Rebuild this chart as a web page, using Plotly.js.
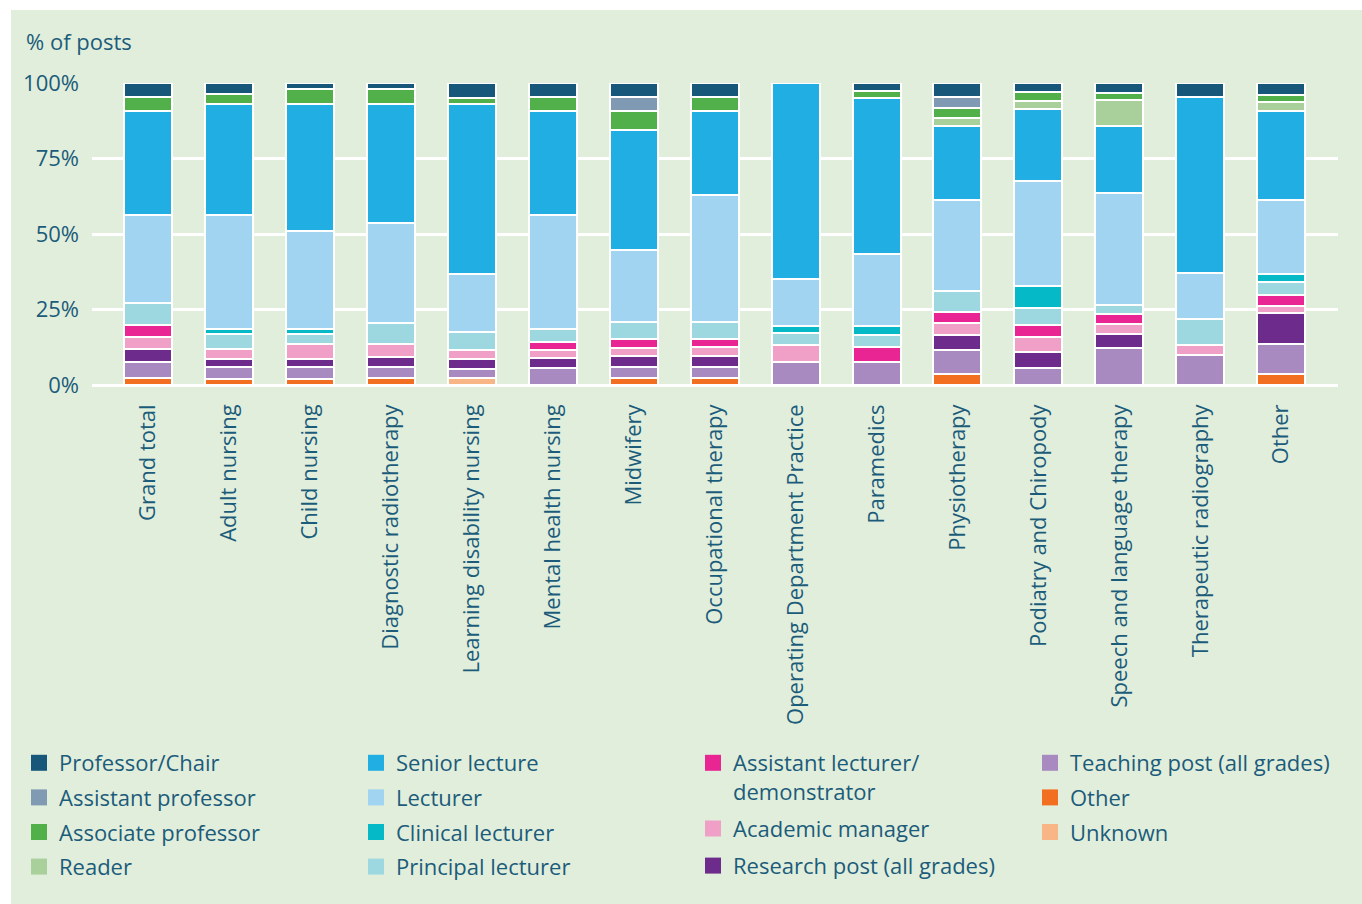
<!DOCTYPE html>
<html>
<head>
<meta charset="utf-8">
<script src="https://cdn.plot.ly/plotly-3.0.1.min.js"></script>
<style>
html,body{margin:0;padding:0;background:#ffffff;}
#chart{position:absolute;left:11px;top:10px;width:1351px;height:894px;}
</style>
</head>
<body>
<div id="chart"></div>
<script>
// ---------- data (percent of posts) ----------
const categories = ["Grand total","Adult nursing","Child nursing","Diagnostic radiotherapy",
  "Learning disability nursing","Mental health nursing","Midwifery","Occupational therapy",
  "Operating Department Practice","Paramedics","Physiotherapy","Podiatry and Chiropody",
  "Speech and language therapy","Therapeutic radiography","Other"];

const unknownPost       = [0,   0,   0,   0,   2.2, 0,   0,   0,   0,   0,   0,   0,   0,   0,   0];
const otherPost         = [2.3, 2.0, 2.0, 2.3, 0,   0,   2.3, 2.3, 0,   0,   3.5, 0,   0,   0,   3.5];
const teachingPost      = [5.2, 4.1, 4.1, 3.7, 3.0, 5.7, 3.8, 3.8, 7.6, 7.6, 8.2, 5.7, 12.4,9.8, 10.1];
const researchPost      = [4.5, 2.4, 2.4, 3.4, 3.3, 3.2, 3.4, 3.4, 0,   0,   4.7, 5.2, 4.4, 0,   10.4];
const academicManager   = [4.0, 3.5, 5.0, 4.1, 3.1, 2.8, 2.9, 3.0, 5.8, 0,   4.0, 5.1, 3.5, 3.5, 2.0];
const assistantLecturer = [3.8, 0,   0,   0,   0,   2.5, 2.8, 2.7, 0,   5.0, 3.7, 3.8, 3.3, 0,   3.8];
const principalLecturer = [7.2, 4.8, 3.4, 7.1, 5.9, 4.4, 5.5, 5.5, 3.8, 4.0, 6.9, 5.8, 2.8, 8.5, 4.2];
const clinicalLecturer  = [0,   1.8, 1.7, 0,   0,   0,   0,   0,   2.5, 3.1, 0,   7.4, 0,   0,   2.9];
const lecturer          = [29.4,37.8,32.3,33.1,19.4,37.8,24.1,42.2,15.5,23.6,30.2,34.8,37.2,15.2,24.3];
const seniorLecture     = [34.2,36.6,42.1,39.3,56.1,34.3,39.6,27.8,64.8,51.9,24.5,23.7,22.1,58.5,29.4];
const reader            = [0,   0,   0,   0,   0,   0,   0,   0,   0,   0,   2.7, 2.8, 8.6, 0,   3.2];
const associateProf     = [4.9, 3.5, 5.0, 5.0, 1.9, 4.8, 6.3, 4.8, 0,   2.3, 3.4, 2.8, 2.4, 0,   2.3];
const assistantProf     = [0,   0,   0,   0,   0,   0,   4.8, 0,   0,   0,   3.7, 0,   0,   0,   0];
const professorChair    = [4.5, 3.5, 2.0, 2.0, 5.1, 4.5, 4.5, 4.5, 0,   2.5, 4.5, 3.1, 3.3, 4.5, 3.9];

const yTickValues = [0, 25, 50, 75, 100];
const yTickLabels = ["0%", "25%", "50%", "75%", "100%"];

// ---------- series definitions (stack order: bottom to top) ----------
const series = [
  {name:"Unknown",                        y:unknownPost,       color:"#F8B585", legend:"legend4"},
  {name:"Other",                          y:otherPost,         color:"#F26F22", legend:"legend4"},
  {name:"Teaching post (all grades)",     y:teachingPost,      color:"#A889C0", legend:"legend4"},
  {name:"Research post (all grades)",     y:researchPost,      color:"#6D2C8C", legend:"legend3"},
  {name:"Academic manager",               y:academicManager,   color:"#F0A0C6", legend:"legend3"},
  {name:"Assistant lecturer/<br>demonstrator", y:assistantLecturer, color:"#E82592", legend:"legend3"},
  {name:"Principal lecturer",             y:principalLecturer, color:"#9DD8E0", legend:"legend2"},
  {name:"Clinical lecturer",              y:clinicalLecturer,  color:"#05B9C6", legend:"legend2"},
  {name:"Lecturer",                       y:lecturer,          color:"#A0D4F0", legend:"legend2"},
  {name:"Senior lecture",                 y:seniorLecture,     color:"#21AFE3", legend:"legend2"},
  {name:"Reader",                         y:reader,            color:"#A9D09A", legend:"legend"},
  {name:"Associate professor",            y:associateProf,     color:"#52B04A", legend:"legend"},
  {name:"Assistant professor",            y:assistantProf,     color:"#7F9AB2", legend:"legend"},
  {name:"Professor/Chair",                y:professorChair,    color:"#17577A", legend:"legend"}
];

const textColor = "#1B5C7A";
const fontFamily = "'Open Sans', 'Noto Sans', sans-serif";

const traces = [];
series.forEach(s => {
  traces.push({
    type: "bar",
    x: categories,
    y: s.y,
    name: s.name,
    width: 0.593,
    marker: {color: s.color, line: {color: "#ffffff", width: 2}},
    showlegend: false,
    hoverinfo: "x+y+name"
  });
});
// legend entries (display order top-down, per column)
series.slice().reverse().forEach((s, i) => {
  traces.push({
    type: "scatter",
    mode: "markers",
    x: [categories[0]],
    y: [null],
    name: s.name,
    legend: s.legend,
    legendgroup: "g" + i,
    marker: {symbol: "square", size: 16, color: s.color, line: {width: 0}},
    hoverinfo: "skip",
    showlegend: true
  });
});

const W = 1351, H = 894;
function legendAt(px, py, gap) {
  return {
    xref: "container", yref: "container",
    x: px / W, y: 1 - py / H,
    xanchor: "left", yanchor: "top",
    orientation: "v",
    traceorder: "grouped",
    tracegroupgap: gap,
    valign: "top",
    bgcolor: "rgba(0,0,0,0)",
    borderwidth: 0,
    font: {family: fontFamily, size: 22, color: textColor}
  };
}

const layout = {
  width: W, height: H,
  paper_bgcolor: "#E2EEDC",
  plot_bgcolor: "#E2EEDC",
  margin: {l: 81, r: 24, t: 73, b: 519, pad: 0, autoexpand: false},
  barmode: "stack",
  barnorm: "percent",
  font: {family: fontFamily, size: 22, color: textColor},
  title: {
    text: "% of posts",
    xref: "container", yref: "container",
    x: 15 / W, xanchor: "left",
    y: 1 - 32 / H, yanchor: "middle",
    font: {family: fontFamily, size: 22, color: textColor}
  },
  xaxis: {
    type: "category",
    range: [-0.69, 14.70],
    tickangle: -90,
    ticks: "",
    showgrid: false,
    showline: false,
    zeroline: false,
    automargin: false,
    ticklabelstandoff: 14,
    tickfont: {family: fontFamily, size: 22, color: textColor}
  },
  yaxis: {
    range: [0, 100],
    tickmode: "array",
    tickvals: yTickValues,
    ticktext: yTickLabels,
    ticks: "",
    showgrid: true,
    gridcolor: "#ffffff",
    gridwidth: 2.5,
    zeroline: true,
    zerolinecolor: "#ffffff",
    zerolinewidth: 3,
    showline: false,
    automargin: false,
    ticklabelstandoff: 12,
    tickfont: {family: fontFamily, size: 22, color: textColor}
  },
  legend:  legendAt(8, 732, 3),
  legend2: legendAt(345, 732, 3),
  legend3: legendAt(682, 732, 5.5),
  legend4: legendAt(1019, 732, 3),
  showlegend: true
};

Plotly.newPlot("chart", traces, layout, {displayModeBar: false});
</script>
</body>
</html>
